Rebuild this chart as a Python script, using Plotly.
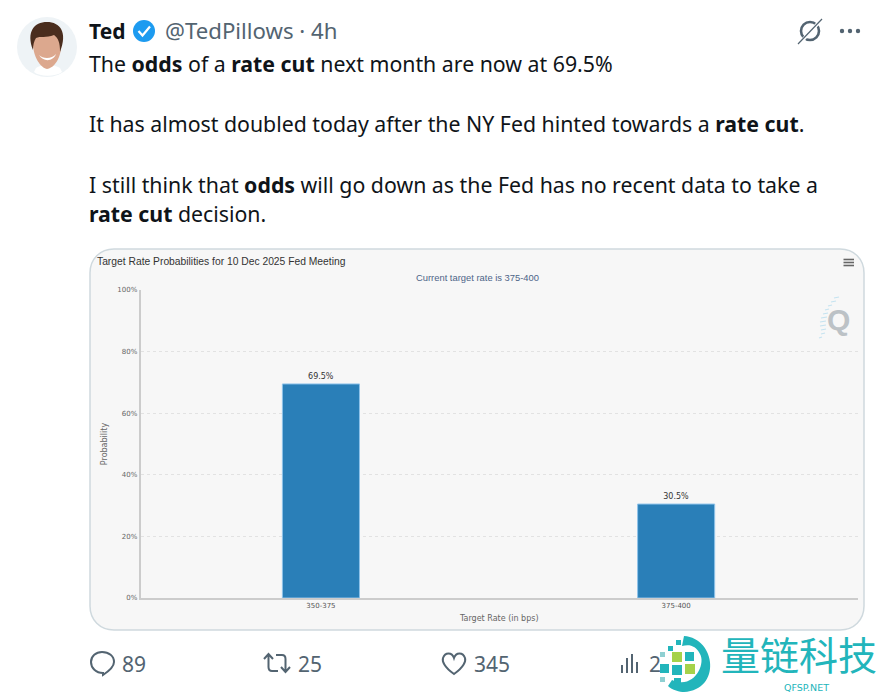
import re
import plotly.graph_objects as go

W = 879
H = 695

# chart values
rate_bins = ["350-375", "375-400"]
probabilities = [69.5, 30.5]
y_ticks = [0, 20, 40, 60, 80, 100]
y_tick_labels = ["0%", "20%", "40%", "60%", "80%", "100%"]

# tweet text
tweet_lines = [
    (64, "The <b>odds</b> of a <b>rate cut</b> next month are now at 69.5%"),
    (124, "It has almost doubled today after the NY Fed hinted towards a <b>rate cut</b>."),
    (184, "I still think that <b>odds</b> will go down as the Fed has no recent data to take a"),
    (214, "<b>rate cut</b> decision."),
]
counts = [(121, "89"), (297, "25"), (473, "345"), (648, "2")]

INK = "#0f1419"
GREY = "#536471"
TEAL = "#22b5bb"


def fx(x):
    return x / W


def fy(y):
    return 1 - y / H


def path(d):
    # path written in screen pixels, turned into paper fractions
    out = []
    is_x = True
    for tok in re.findall(r"[A-Za-z]|-?[\d.]+", d):
        if tok.isalpha():
            out.append(tok)
            is_x = True
        else:
            out.append(str(fx(float(tok)) if is_x else fy(float(tok))))
            is_x = not is_x
    return " ".join(out)


fig = go.Figure()
fig.add_trace(go.Bar(
    x=rate_bins, y=probabilities, width=0.217,
    marker=dict(color="#2a7fb8", line=dict(color="#8fc3ea", width=1)),
    text=[f"{p}%" for p in probabilities], textposition="outside", cliponaxis=False,
    textfont=dict(family="DejaVu Sans", size=8, color="#333333"),
    hoverinfo="skip",
))

shapes = []
notes = []


def shape_path(d, fill="rgba(0,0,0,0)", line=None, width=0, layer="above"):
    shapes.append(dict(type="path", xref="paper", yref="paper", path=path(d), fillcolor=fill,
                       line=dict(color=line or "rgba(0,0,0,0)", width=width), layer=layer))


def circle(cx, cy, r, fill="rgba(0,0,0,0)", line=None, width=0, layer="above"):
    shapes.append(dict(type="circle", xref="paper", yref="paper",
                       x0=fx(cx - r), x1=fx(cx + r), y0=fy(cy + r), y1=fy(cy - r),
                       fillcolor=fill, line=dict(color=line or "rgba(0,0,0,0)", width=width), layer=layer))


def rect(x0, y0, x1, y1, fill):
    shapes.append(dict(type="rect", xref="paper", yref="paper", x0=fx(x0), x1=fx(x1), y0=fy(y1), y1=fy(y0),
                       fillcolor=fill, line=dict(width=0)))


def note(x, y, text, size, color=INK, family="Noto Sans", anchor="left"):
    notes.append(dict(xref="paper", yref="paper", x=fx(x), y=fy(y), text=text, showarrow=False,
                      xanchor=anchor, yanchor="middle", borderpad=0,
                      font=dict(family=family, size=size, color=color)))


# card behind the chart
shape_path("M 114 249 L 840 249 C 854 249 864 259 864 273 L 864 606 C 864 620 854 630 840 630 "
           "L 114 630 C 100 630 90 620 90 606 L 90 273 C 90 259 100 249 114 249 Z",
           fill="#f7f7f7", line="#cfd9de", width=1.5, layer="below")

# avatar
circle(47, 47, 30, fill="#eef3f6", layer="below")
shape_path("M 36 68 C 41 64 54 64 60 68 L 62 72 C 55 77 40 77 34 72 Z", fill="#ffffff")
shape_path("M 33 40 C 38 33 56 33 61 38 C 63 50 58 67 47 69 C 38 67 32 52 33 40 Z", fill="#dca88e")
shape_path("M 33 50 C 26 32 34 22 47 22 C 60 22 68 32 60 52 C 60 42 58 38 54 35 C 46 38 40 36 36 38 "
           "C 34 41 33 45 33 50 Z", fill="#4a2d1e")
shape_path("M 39 55 C 43 59 52 59 56 54 C 53 62 43 62 39 55 Z", fill="#ffffff")

# name line
note(88, 31, "<b>Ted</b>", 21, INK)
circle(144, 31, 11, fill="#1d9bf0")
shape_path("M 138.5 31 L 142.5 35.5 L 150 26.5", line="#ffffff", width=2.2)
note(164, 31, "@TedPillows · 4h", 22.2, GREY)

for y, line in tweet_lines:
    note(88, y, line, 21.3, INK)

# top right icons
circle(810, 31, 9, line=GREY, width=2.6)
shape_path("M 799 44 L 822 19", line="#ffffff", width=3.5)
shape_path("M 798 44 L 822 19", line=GREY, width=1.2)
for cx in (842, 850, 858):
    circle(cx, 31, 2.2, fill=GREY)

# chart texts
note(96, 262, "Target Rate Probabilities for 10 Dec 2025 Fed Meeting", 10.3, "#333333", "Liberation Sans")
note(477, 277, "Current target rate is 375-400", 9.4, "#4d6488", "Liberation Sans", anchor="center")
for y in (259.5, 262.5, 265.5):
    shape_path(f"M 843.5 {y} L 854 {y}", line="#666666", width=1.6)

# logo in the plot corner
note(838, 319, "<b>Q</b>", 30, "#bcc2c6", "Liberation Sans", anchor="center")
for x0, y0, x1 in [(834, 298, 839), (831, 302, 836), (828, 306, 832), (825, 310, 829), (823, 314, 828),
                   (821, 318, 827), (820, 322, 826), (820, 326, 826), (821, 330, 826), (821, 334, 825),
                   (819, 338, 822)]:
    shape_path(f"M {x0} {y0} L {x1} {y0 - 1}", line="#c5e3f0", width=1.2)

# bottom action icons
shape_path("M 103 673 C 96 673 91 668 91 662 C 91 656 96 652 102 652 C 109 652 114 656 114 662 "
           "C 114 667 109 671 103 675 Z", line=GREY, width=2)
note(counts[0][0], 664, counts[0][1], 21, GREY)
shape_path("M 264 659 L 268.5 654 L 273 659 M 268.5 654 L 268.5 667 C 268.5 670 270 671 272 671 L 278 671",
           line=GREY, width=2)
shape_path("M 290 667 L 285.5 672 L 281 667 M 285.5 672 L 285.5 659 C 285.5 656 284 655 282 655 L 276 655",
           line=GREY, width=2)
note(counts[1][0], 664, counts[1][1], 21, GREY)
shape_path("M 454 674 C 444 667 442 661 443 658 C 445 652 452 652 454 658 C 456 652 463 652 465 658 "
           "C 466 661 464 667 454 674 Z", line=GREY, width=2)
note(counts[2][0], 664, counts[2][1], 21, GREY)
for x, top in [(622, 665), (627, 658), (632, 654), (637, 662)]:
    shape_path(f"M {x} 673 L {x} {top}", line=GREY, width=2)
note(counts[3][0], 664, counts[3][1], 21, GREY)

# watermark
shape_path("M 684 636 C 716 638 722 690 684 692 C 680 692 672 690 668 686 L 672 680 "
           "C 694 690 706 664 700 654 C 696 646 690 644 682 646 Z", fill=TEAL)
for x, y, s, c in [(676, 640, 5, TEAL), (668, 646, 5, TEAL), (660, 652, 5, "#8fd0d2"), (672, 652, 10, "#a5d24a"),
                   (685, 652, 9, TEAL), (660, 664, 9, TEAL), (672, 665, 10, TEAL), (685, 664, 10, "#a5d24a"),
                   (660, 677, 5, "#8fd0d2"), (674, 678, 7, TEAL)]:
    rect(x, y, x + s, y + s, c)
note(799, 653, "量链科技", 39, TEAL, "Noto Sans CJK SC", anchor="center")
note(806, 687, "QFSP.NET", 9.5, TEAL, "DejaVu Sans", anchor="center")

fig.update_layout(
    width=W, height=H, margin=dict(l=0, r=0, t=0, b=0),
    paper_bgcolor="#ffffff", plot_bgcolor="rgba(0,0,0,0)", showlegend=False,
    shapes=shapes, annotations=notes,
    xaxis=dict(
        domain=[fx(140.5), fx(858)], range=[-0.508, 1.512], type="category",
        showgrid=False, showline=True, linecolor="#cccccc", linewidth=2, ticks="",
        tickfont=dict(family="DejaVu Sans", size=7, color="#555555"),
        title=dict(text="Target Rate (in bps)", standoff=6,
                   font=dict(family="DejaVu Sans", size=8, color="#666666")),
        automargin=False,
    ),
    yaxis=dict(
        domain=[fy(598), fy(290)], range=[0, 100], tickvals=y_ticks, ticktext=y_tick_labels,
        showgrid=True, gridcolor="#e2e2e2", griddash="dot", gridwidth=1, zeroline=False,
        showline=True, linecolor="#cccccc", linewidth=1.5, ticks="",
        tickfont=dict(family="DejaVu Sans", size=7, color="#666666"),
        title=dict(text="Probability", standoff=9,
                   font=dict(family="DejaVu Sans", size=8, color="#666666")),
        automargin=False,
    ),
)

fig.write_html("out.html", config=dict(displayModeBar=False),
               post_script="document.body.style.margin='0';document.body.style.overflow='hidden';")
